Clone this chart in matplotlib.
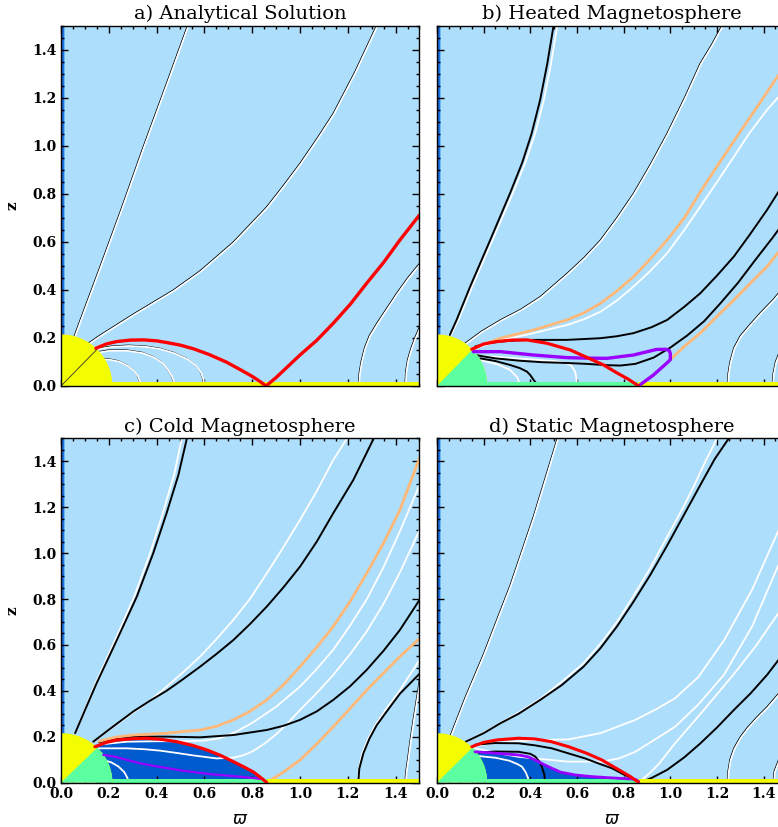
import numpy as np
import matplotlib as mpl
mpl.use('Agg')
import matplotlib.pyplot as plt
from matplotlib.patches import Wedge, Rectangle
from matplotlib.ticker import MultipleLocator, FormatStrFormatter
from matplotlib.transforms import offset_copy

# colours
LIGHT = '#ADDEFC'
DEEP = '#005BCE'
YELLOW = '#F4FC00'
GREEN = '#5CFFA0'
ORANGE = '#FFB877'
PURPLE = '#9900FF'
RED = '#FF0000'

titles = ['a) Analytical Solution', 'b) Heated Magnetosphere',
          'c) Cold Magnetosphere', 'd) Static Magnetosphere']

star_r = 0.215      # stellar radius
cusp_x = 0.862      # end of closed zone on the disk
disk_h = 0.017

# ---------------- a) analytical ----------------
a_pairs = [
    [(0.054, 0.205), (0.093, 0.31), (0.163, 0.497), (0.247, 0.725), (0.344, 0.997), (0.442, 1.263),
     (0.530, 1.504)],
    [(0.114, 0.178), (0.16, 0.21), (0.2, 0.235), (0.303, 0.30), (0.4, 0.358), (0.47, 0.40), (0.582, 0.48),
     (0.721, 0.60), (0.861, 0.747), (0.93, 0.835), (1.0, 0.928), (1.07, 1.03), (1.139, 1.136), (1.23, 1.31),
     (1.321, 1.504)],
    [(0.160, 0.115), (0.2, 0.113), (0.24, 0.105), (0.275, 0.0875), (0.30, 0.068), (0.318, 0.045), (0.328, 0.02),
     (0.333, 0.0)],
    [(0.156, 0.143), (0.2, 0.15), (0.275, 0.15), (0.34, 0.14), (0.386, 0.122), (0.42, 0.10), (0.442, 0.074),
     (0.46, 0.045), (0.47, 0.02), (0.474, 0.0)],
    [(0.152, 0.157), (0.21, 0.166), (0.28, 0.17), (0.35, 0.167), (0.414, 0.157), (0.47, 0.14), (0.526, 0.115),
     (0.56, 0.09), (0.582, 0.06), (0.593, 0.03), (0.598, 0.0)],
    [(1.244, 0.0), (1.247, 0.05), (1.255, 0.1), (1.27, 0.16), (1.29, 0.21), (1.321, 0.261), (1.36, 0.32),
     (1.404, 0.386), (1.45, 0.45), (1.5, 0.511)],
    [(1.439, 0.0), (1.442, 0.06), (1.45, 0.11), (1.465, 0.16), (1.48, 0.2), (1.5, 0.247)],
]
a_red = [(0.146, 0.157), (0.19, 0.175), (0.233, 0.185), (0.29, 0.191), (0.344, 0.192), (0.40, 0.188),
         (0.442, 0.181), (0.50, 0.17), (0.554, 0.155), (0.62, 0.131), (0.693, 0.099), (0.75, 0.068),
         (0.80, 0.04), (0.835, 0.017), (0.858, 0.0), (0.9, 0.035), (1.0, 0.129), (1.07, 0.19), (1.139, 0.261),
         (1.21, 0.34), (1.279, 0.428), (1.35, 0.515), (1.418, 0.608), (1.5, 0.7125)]

# ---------------- b) heated ----------------
b_pairs = [
    [(0.12, 0.178), (0.19, 0.228), (0.271, 0.275), (0.36, 0.32), (0.442, 0.372), (0.557, 0.469), (0.63, 0.535),
     (0.70, 0.608), (0.77, 0.70), (0.842, 0.803), (0.915, 0.925), (0.986, 1.053), (1.06, 1.20), (1.128, 1.345),
     (1.175, 1.42), (1.222, 1.504)],
    [(1.244, 0.0), (1.247, 0.05), (1.255, 0.1), (1.272, 0.16), (1.30, 0.21), (1.344, 0.26), (1.39, 0.31),
     (1.44, 0.36), (1.5, 0.43)],
    [(1.436, 0.0), (1.44, 0.05), (1.45, 0.1), (1.47, 0.15), (1.5, 0.2)],
]
b_black = [
    [(0.055, 0.2125), (0.084, 0.275), (0.142, 0.414), (0.228, 0.608), (0.313, 0.803), (0.365, 0.93),
     (0.405, 1.05), (0.442, 1.192), (0.472, 1.34), (0.5, 1.504)],
    [(0.164, 0.165), (0.22, 0.178), (0.271, 0.185), (0.34, 0.19), (0.413, 0.192), (0.557, 0.192), (0.70, 0.199),
     (0.77, 0.207), (0.842, 0.22), (0.92, 0.245), (0.986, 0.275), (1.06, 0.33), (1.128, 0.386), (1.2, 0.46),
     (1.272, 0.539), (1.34, 0.63), (1.414, 0.733), (1.464, 0.81), (1.5, 0.87)],
    [(0.163, 0.129), (0.25, 0.115), (0.356, 0.105), (0.45, 0.099), (0.55, 0.096), (0.642, 0.092), (0.72, 0.087),
     (0.785, 0.085), (0.85, 0.092), (0.928, 0.118), (1.0, 0.16), (1.072, 0.21), (1.145, 0.27), (1.215, 0.345),
     (1.29, 0.43), (1.364, 0.525), (1.44, 0.62), (1.5, 0.70)],
    [(0.185, 0.115), (0.25, 0.104), (0.313, 0.0875), (0.356, 0.074), (0.385, 0.06), (0.40, 0.045),
     (0.414, 0.025), (0.435, 0.0)],
]
b_white = [
    [(0.06, 0.2125), (0.092, 0.275), (0.151, 0.414), (0.238, 0.608), (0.325, 0.803), (0.378, 0.93),
     (0.42, 1.05), (0.458, 1.192), (0.488, 1.34), (0.516, 1.504)],
    [(0.174, 0.16), (0.271, 0.19), (0.413, 0.22), (0.557, 0.254), (0.63, 0.278), (0.70, 0.309), (0.77, 0.355),
     (0.842, 0.414), (0.915, 0.48), (0.986, 0.553), (1.06, 0.65), (1.128, 0.747), (1.2, 0.85), (1.272, 0.955),
     (1.34, 1.055), (1.414, 1.15), (1.464, 1.205), (1.5, 1.25)],
    [(0.185, 0.108), (0.26, 0.09), (0.313, 0.067), (0.345, 0.035), (0.356, 0.0)],
    [(0.195, 0.125), (0.30, 0.118), (0.413, 0.11), (0.50, 0.104), (0.545, 0.098), (0.575, 0.085), (0.592, 0.06),
     (0.598, 0.03), (0.60, 0.0)],
]
b_orange = [
    [(0.164, 0.16), (0.271, 0.199), (0.413, 0.233), (0.557, 0.275), (0.63, 0.305), (0.70, 0.344), (0.77, 0.395),
     (0.842, 0.455), (0.915, 0.53), (0.986, 0.608), (1.06, 0.70), (1.128, 0.808), (1.2, 0.915), (1.272, 1.02),
     (1.37, 1.16), (1.464, 1.296), (1.5, 1.35)],
    [(1.0, 0.11), (1.06, 0.165), (1.128, 0.22), (1.2, 0.29), (1.272, 0.358), (1.34, 0.425), (1.414, 0.497),
     (1.464, 0.558), (1.5, 0.60)],
]
b_purple = [(0.156, 0.143), (0.271, 0.143), (0.413, 0.129), (0.557, 0.118), (0.64, 0.116), (0.728, 0.115),
            (0.842, 0.129), (0.94, 0.152), (0.98, 0.153), (0.995, 0.148), (1.0, 0.135), (1.0, 0.11),
            (0.99, 0.10), (0.928, 0.046), (0.864, 0.0)]
b_red = [(0.149, 0.153), (0.20, 0.175), (0.256, 0.185), (0.32, 0.191), (0.385, 0.192), (0.471, 0.178),
         (0.571, 0.15), (0.64, 0.12), (0.714, 0.0875), (0.77, 0.055), (0.82, 0.028), (0.864, 0.0)]

# ---------------- c) cold ----------------
c_pairs = [
    [(1.439, 0.0), (1.443, 0.05), (1.45, 0.1), (1.46, 0.18), (1.47, 0.25), (1.485, 0.35), (1.5, 0.45)],
]
c_black = [
    [(0.059, 0.215), (0.10, 0.315), (0.149, 0.433), (0.233, 0.62), (0.317, 0.81), (0.386, 1.0),
     (0.442, 1.175), (0.491, 1.34), (0.526, 1.497)],
    [(0.135, 0.178), (0.2, 0.23), (0.303, 0.31), (0.37, 0.355), (0.442, 0.40), (0.51, 0.45), (0.582, 0.505),
     (0.65, 0.56), (0.721, 0.621), (0.79, 0.69), (0.861, 0.767), (0.93, 0.85), (1.0, 0.941), (1.07, 1.05),
     (1.139, 1.174), (1.223, 1.319), (1.307, 1.497)],
    [(0.16, 0.175), (0.23, 0.192), (0.303, 0.2), (0.442, 0.2), (0.582, 0.197), (0.721, 0.207), (0.861, 0.229),
     (0.93, 0.247), (1.0, 0.273), (1.07, 0.31), (1.139, 0.36), (1.21, 0.42), (1.279, 0.491), (1.35, 0.575),
     (1.418, 0.665), (1.5, 0.796)],
    [(1.244, 0.0), (1.248, 0.06), (1.265, 0.127), (1.29, 0.19), (1.321, 0.25), (1.37, 0.32), (1.418, 0.387),
     (1.5, 0.474)],
]
c_white = [
    [(0.059, 0.215), (0.098, 0.315), (0.145, 0.433), (0.226, 0.62), (0.306, 0.81), (0.373, 1.0),
     (0.426, 1.175), (0.473, 1.34), (0.505, 1.497)],
    [(0.135, 0.178), (0.2, 0.228), (0.303, 0.305), (0.37, 0.355), (0.442, 0.418), (0.51, 0.48),
     (0.582, 0.549), (0.65, 0.625), (0.721, 0.709), (0.79, 0.80), (0.861, 0.912), (0.93, 1.025),
     (1.0, 1.145), (1.07, 1.27), (1.139, 1.406), (1.195, 1.497)],
    [(0.156, 0.165), (0.275, 0.178), (0.414, 0.18), (0.52, 0.18), (0.6, 0.183), (0.665, 0.193), (0.73, 0.22),
     (0.80, 0.26), (0.9, 0.33), (1.0, 0.418), (1.07, 0.495), (1.14, 0.58), (1.21, 0.685), (1.28, 0.80),
     (1.35, 0.94), (1.42, 1.10), (1.5, 1.297)],
    [(0.156, 0.149), (0.275, 0.149), (0.35, 0.145), (0.414, 0.139), (0.49, 0.128), (0.554, 0.118),
     (0.651, 0.105), (0.721, 0.108), (0.76, 0.118), (0.80, 0.135), (0.85, 0.168), (0.90, 0.21), (0.95, 0.26),
     (1.0, 0.316), (1.07, 0.39), (1.14, 0.47), (1.21, 0.56), (1.28, 0.66), (1.35, 0.78), (1.42, 0.92),
     (1.5, 1.10)],
    [(0.177, 0.098), (0.21, 0.088), (0.24, 0.07), (0.265, 0.045), (0.278, 0.02), (0.282, 0.0)],
    [(1.244, 0.0), (1.246, 0.06), (1.26, 0.127), (1.285, 0.19), (1.315, 0.25), (1.36, 0.32), (1.41, 0.39),
     (1.5, 0.534)],
]
c_orange = [
    [(0.16, 0.18), (0.23, 0.198), (0.303, 0.207), (0.442, 0.215), (0.582, 0.229), (0.65, 0.245), (0.721, 0.273),
     (0.79, 0.31), (0.861, 0.36), (0.93, 0.425), (1.0, 0.505), (1.07, 0.59), (1.139, 0.68), (1.21, 0.79),
     (1.279, 0.912), (1.35, 1.045), (1.418, 1.188), (1.5, 1.414)],
    [(0.861, 0.0), (0.93, 0.045), (1.0, 0.098), (1.07, 0.168), (1.139, 0.243), (1.21, 0.323), (1.279, 0.403),
     (1.35, 0.478), (1.418, 0.549), (1.5, 0.628)],
]
c_purple = [(0.177, 0.12), (0.22, 0.114), (0.26, 0.103), (0.33, 0.084), (0.39, 0.072), (0.45, 0.062),
            (0.512, 0.051), (0.62, 0.037), (0.721, 0.028), (0.80, 0.02), (0.846, 0.014)]
c_red = [(0.142, 0.156), (0.19, 0.175), (0.233, 0.185), (0.30, 0.191), (0.359, 0.193), (0.42, 0.188),
         (0.484, 0.178), (0.55, 0.162), (0.61, 0.142), (0.67, 0.117), (0.721, 0.091), (0.765, 0.068),
         (0.805, 0.046), (0.835, 0.022), (0.861, 0.0)]

# ---------------- d) static ----------------
d_pairs = [
    [(0.055, 0.2), (0.12, 0.37), (0.199, 0.56), (0.313, 0.86), (0.413, 1.16), (0.514, 1.497)],
    [(1.244, 0.0), (1.247, 0.05), (1.255, 0.1), (1.272, 0.15), (1.30, 0.2), (1.33, 0.24), (1.37, 0.285),
     (1.415, 0.331), (1.464, 0.389), (1.5, 0.43)],
    [(1.44, 0.0), (1.445, 0.05), (1.464, 0.1), (1.5, 0.17)],
]
d_black = [
    [(0.123, 0.178), (0.2, 0.215), (0.271, 0.258), (0.35, 0.30), (0.442, 0.36), (0.535, 0.425), (0.628, 0.505),
     (0.70, 0.585), (0.771, 0.68), (0.84, 0.785), (0.914, 0.905), (0.99, 1.04), (1.06, 1.17), (1.13, 1.30),
     (1.19, 1.41), (1.25, 1.50)],
    [(0.164, 0.165), (0.25, 0.172), (0.349, 0.171), (0.42, 0.162), (0.492, 0.149), (0.56, 0.128),
     (0.635, 0.105), (0.70, 0.08), (0.75, 0.062), (0.80, 0.035), (0.85, 0.011), (0.864, 0.0)],
    [(0.164, 0.13), (0.25, 0.135), (0.349, 0.134), (0.40, 0.125), (0.421, 0.113), (0.44, 0.09), (0.449, 0.069),
     (0.46, 0.035), (0.463, 0.0)],
    [(0.87, 0.0), (0.92, 0.02), (0.986, 0.055), (1.06, 0.11), (1.129, 0.171), (1.2, 0.24), (1.272, 0.316),
     (1.345, 0.39), (1.415, 0.47), (1.464, 0.535), (1.5, 0.585)],
]
d_white = [
    [(0.123, 0.178), (0.2, 0.217), (0.271, 0.26), (0.35, 0.305), (0.442, 0.365), (0.535, 0.44), (0.628, 0.52),
     (0.70, 0.605), (0.771, 0.70), (0.84, 0.81), (0.914, 0.935), (0.98, 1.06), (1.05, 1.19), (1.10, 1.29),
     (1.15, 1.40), (1.2, 1.5)],
    [(0.163, 0.16), (0.25, 0.172), (0.35, 0.18), (0.42, 0.185), (0.563, 0.188), (0.70, 0.215), (0.85, 0.273),
     (0.94, 0.32), (1.02, 0.367), (1.12, 0.46), (1.23, 0.62), (1.35, 0.84), (1.464, 1.10), (1.5, 1.18)],
    [(0.163, 0.149), (0.25, 0.13), (0.35, 0.112), (0.421, 0.105), (0.563, 0.091), (0.707, 0.091),
     (0.78, 0.105), (0.85, 0.134), (0.93, 0.185), (1.02, 0.243), (1.12, 0.34), (1.23, 0.47), (1.35, 0.68),
     (1.464, 0.95), (1.5, 1.03)],
    [(0.864, 0.0), (0.91, 0.04), (0.95, 0.08), (1.02, 0.171), (1.13, 0.3), (1.2, 0.385), (1.27, 0.47),
     (1.37, 0.60), (1.464, 0.74), (1.5, 0.80)],
    [(0.17, 0.116), (0.25, 0.108), (0.31, 0.095), (0.345, 0.08), (0.364, 0.069), (0.38, 0.045), (0.39, 0.02),
     (0.392, 0.0)],
]
d_purple = [(0.163, 0.134), (0.25, 0.128), (0.349, 0.12), (0.39, 0.112), (0.421, 0.098), (0.455, 0.08),
            (0.492, 0.062), (0.53, 0.045), (0.592, 0.033), (0.66, 0.026), (0.735, 0.021), (0.85, 0.014),
            (0.864, 0.005)]
d_red = [(0.149, 0.156), (0.2, 0.175), (0.26, 0.186), (0.349, 0.193), (0.42, 0.19), (0.49, 0.178),
         (0.564, 0.156), (0.64, 0.128), (0.707, 0.098), (0.78, 0.055), (0.83, 0.025), (0.864, 0.0)]


fig = plt.figure(figsize=(7.78, 8.27), dpi=100)
fig.patch.set_facecolor('white')
pos = [[0.0784, 0.5333, 0.4608, 0.4353], [0.5617, 0.5333, 0.4499, 0.4353],
       [0.0784, 0.0538, 0.4608, 0.4160], [0.5617, 0.0538, 0.4499, 0.4160]]
axs = [fig.add_axes(p) for p in pos]


def xs(pts):
    return [p[0] for p in pts]


def zs(pts):
    return [p[1] for p in pts]


def line(ax, pts, color, lw, z=2, dx=0, dy=0):
    tr = ax.transData
    if dx or dy:
        tr = offset_copy(ax.transData, fig=fig, x=dx, y=dy, units='dots')
    ax.plot(xs(pts), zs(pts), color=color, lw=lw, zorder=z, transform=tr,
            solid_capstyle='round', solid_joinstyle='round')


def pair(ax, pts):
    # IDL style: thin black line with a white twin just below-right
    line(ax, pts, 'black', 0.8, 2)
    line(ax, pts, 'white', 1.2, 2.1, dx=0.8, dy=-0.8)


def frame(ax, i):
    ax.set_xlim(0, 1.5)
    ax.set_ylim(0, 1.5)
    ax.set_facecolor(LIGHT)
    ax.axvspan(0, 0.006, color='#0A1E60', lw=0, zorder=1)
    ax.axvspan(0.006, 0.012, color='#1C70E0', lw=0, zorder=1)
    ax.axvspan(0.012, 0.016, color='#6CBAF6', lw=0, zorder=1)
    # star
    ax.add_patch(Wedge((0, 0), star_r, 0, 90, color=YELLOW, lw=0, zorder=3))
    if i == 0:
        ax.plot([0, 0.15], [0, 0.152], color='#333333', lw=0.6, zorder=3.1)
        ax.add_patch(Rectangle((star_r, 0), 1.5 - star_r, disk_h, color=YELLOW, lw=0, zorder=2.8))
    else:
        ax.add_patch(Wedge((0, 0), star_r, 0, 45, color=GREEN, lw=0, zorder=3.05))
        ax.add_patch(Rectangle((star_r, 0), cusp_x - star_r, disk_h, color=GREEN, lw=0, zorder=2.8))
        ax.add_patch(Rectangle((cusp_x, 0), 1.5 - cusp_x, disk_h, color=YELLOW, lw=0, zorder=2.8))
    ax.xaxis.set_major_locator(MultipleLocator(0.2))
    ax.xaxis.set_minor_locator(MultipleLocator(0.05))
    ax.yaxis.set_major_locator(MultipleLocator(0.2))
    ax.yaxis.set_minor_locator(MultipleLocator(0.05))
    ax.xaxis.set_major_formatter(FormatStrFormatter('%.1f'))
    ax.yaxis.set_major_formatter(FormatStrFormatter('%.1f'))
    ax.tick_params(which='both', direction='in', top=True, right=True, width=1, color='black')
    ax.tick_params(which='major', length=5)
    ax.tick_params(which='minor', length=2.5)
    ax.tick_params(labelsize=10)
    for lab in ax.get_xticklabels() + ax.get_yticklabels():
        lab.set_family('DejaVu Serif')
        lab.set_fontweight('bold')
    if i in (0, 1):
        ax.tick_params(labelbottom=False)
    else:
        ax.set_xlabel(r'$\varpi$', fontsize=12, labelpad=6)
    if i in (1, 3):
        ax.tick_params(labelleft=False)
    else:
        ax.set_ylabel('z', family='DejaVu Serif', fontweight='bold', fontsize=11, labelpad=9)
    ax.set_title(titles[i], family='DejaVu Serif', fontsize=14, pad=5)
    for s in ax.spines.values():
        s.set_linewidth(1)
        s.set_zorder(5)


for i, ax in enumerate(axs):
    frame(ax, i)

# a
ax = axs[0]
for pts in a_pairs:
    pair(ax, pts)
line(ax, a_red, RED, 2.4, 3.5)

# b
ax = axs[1]
for pts in b_pairs:
    pair(ax, pts)
for pts in b_white:
    line(ax, pts, 'white', 1.3, 2.2)
for pts in b_black:
    line(ax, pts, 'black', 1.4, 2.3)
for pts in b_orange:
    line(ax, pts, ORANGE, 2.0, 2.4)
line(ax, b_purple, PURPLE, 2.4, 3.4)
line(ax, b_red, RED, 2.3, 3.5)

# c
ax = axs[2]
ax.fill(xs(c_red) + [c_red[0][0]], zs(c_red) + [0], color=DEEP, lw=0, zorder=1.5)
for pts in c_pairs:
    pair(ax, pts)
for pts in c_white:
    line(ax, pts, 'white', 1.3, 2.2)
for pts in c_black:
    line(ax, pts, 'black', 1.4, 2.3)
for pts in c_orange:
    line(ax, pts, ORANGE, 2.0, 2.4)
line(ax, c_purple, PURPLE, 1.6, 3.4)
line(ax, c_red, RED, 2.3, 3.5)

# d
ax = axs[3]
ax.fill(xs(d_purple) + [d_purple[-1][0], d_purple[0][0]], zs(d_purple) + [0, 0], color=DEEP, lw=0, zorder=1.5)
for pts in d_pairs:
    pair(ax, pts)
for pts in d_white:
    line(ax, pts, 'white', 1.3, 2.2)
for pts in d_black:
    line(ax, pts, 'black', 1.4, 2.3)
line(ax, d_purple, PURPLE, 2.0, 3.4)
line(ax, d_red, RED, 2.2, 3.5)

fig.savefig('out.png', dpi=100)
